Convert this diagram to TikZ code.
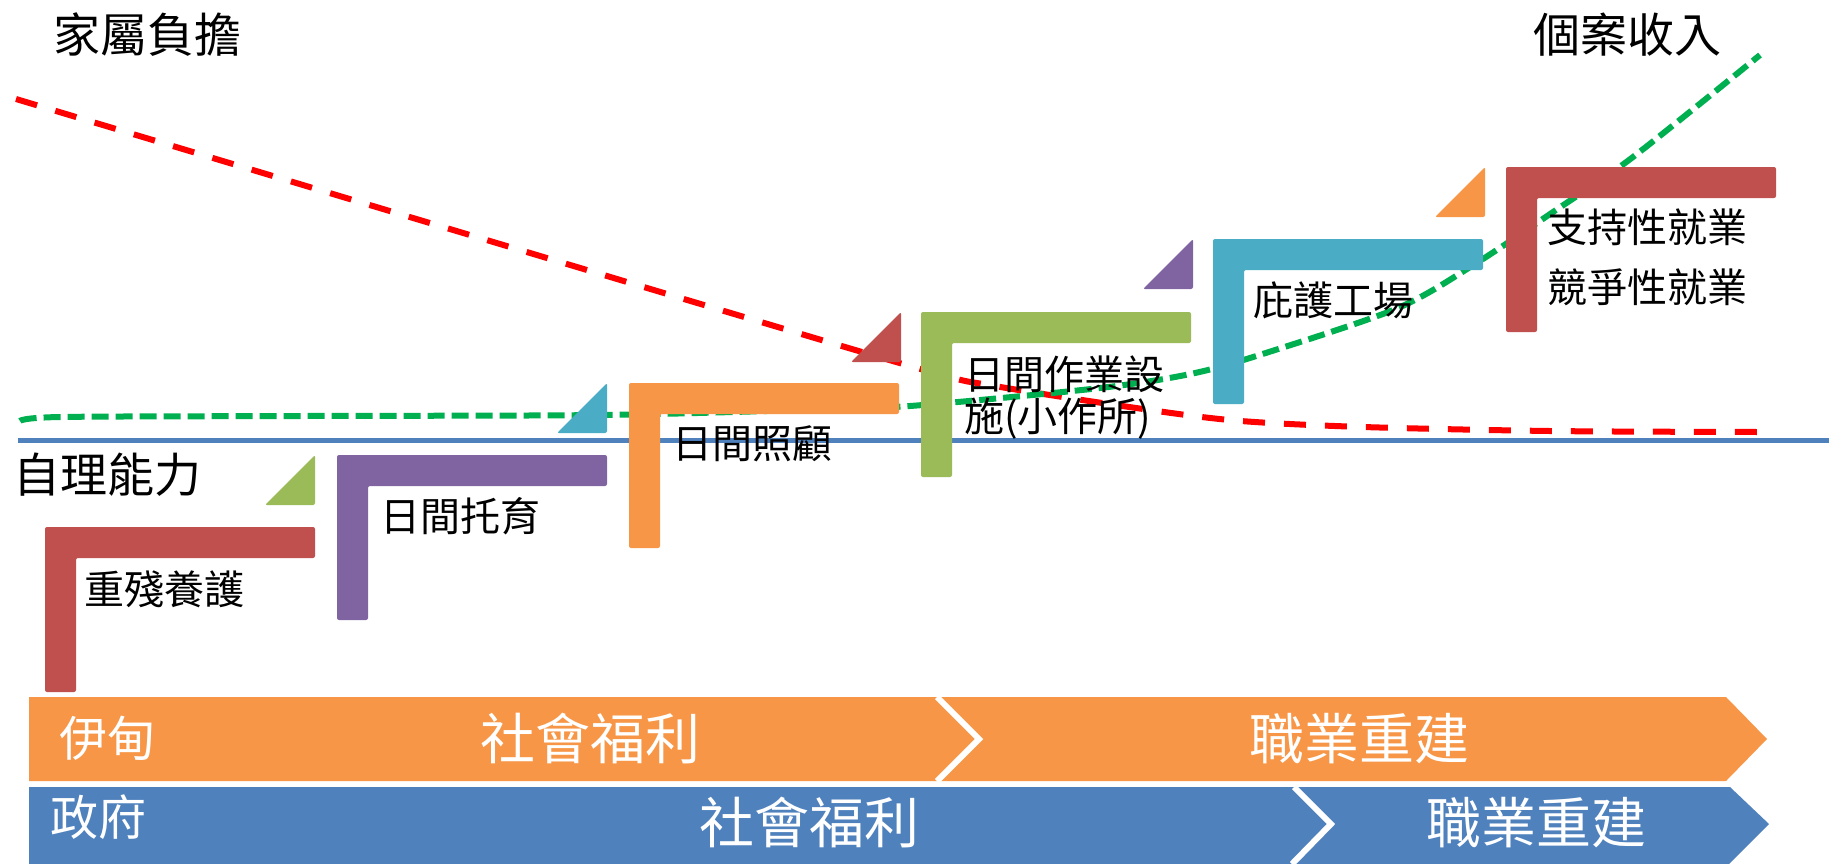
\documentclass[tikz,border=0pt]{standalone}
\usepackage{fontspec}
\setmainfont{Noto Sans CJK TC}
\definecolor{stepred}{HTML}{C0504D}
\definecolor{steppurple}{HTML}{8064A2}
\definecolor{steporange}{HTML}{F79646}
\definecolor{stepgreen}{HTML}{9BBB59}
\definecolor{stepteal}{HTML}{4BACC6}
\definecolor{lineblue}{HTML}{4F81BD}
\definecolor{curvegreen}{HTML}{00B050}
\definecolor{curvered}{HTML}{FF0000}
\tikzset{
  steplabel/.style={font=\fontsize{40}{42}\selectfont, inner sep=0pt, anchor=base west, align=left},
  axislabel/.style={font=\fontsize{47}{50}\selectfont, inner sep=0pt, anchor=base west},
  bandlabel/.style={font=\fontsize{48}{50}\selectfont, text=white, inner sep=0pt, anchor=base west},
  phaselabel/.style={font=\fontsize{55}{60}\selectfont, text=white, inner sep=0pt, anchor=base}
}

\begin{document}
\begin{tikzpicture}[x=1pt,y=-1pt]
\useasboundingbox (0,0) rectangle (1829,863);
\def\w{270}
\def\t{31}
\def\h{165}
\draw[curvered, line width=6pt, dash pattern=on 22pt off 19pt] plot[smooth] coordinates {(16,99) (500,244) (910,366) (995,386) (1150,410) (1241,421) (1363,427) (1550,431) (1760,432)};
\draw[curvegreen, line width=6pt, dash pattern=on 17pt off 7pt] plot[smooth] coordinates {(20,421) (60,417) (300,416) (600,415) (800,410) (910,406) (1100,388) (1195,373) (1272,351) (1398,308) (1475,264) (1556,210) (1633,157) (1760,55)};
\draw[lineblue, line width=5pt] (18,440) -- (1829,440);
\foreach \a/\b/\c in {45/527/stepred, 337/455/steppurple, 629/383/steporange, 921/312/stepgreen, 1213/239/stepteal, 1506/167/stepred}
  \fill[\c, rounded corners=2pt] (\a,\b) -- ++(\w,0) -- ++(0,\t) -- ++(\t-\w,0) -- ++(0,\h-\t) -- ++(-\t,0) -- cycle;
\foreach \a/\b/\c in {315/455/stepgreen, 607/383/stepteal, 901/312/stepred, 1193/239/steppurple, 1485/167/steporange}
  \fill[\c, rounded corners=2pt] (\a,\b) -- ++(0,50) -- ++(-50,0) -- cycle;
\fill[steporange] (29,697) -- (1726,697) -- (1767,739) -- (1726,781) -- (29,781) -- cycle;
\fill[lineblue] (29,787) -- (1730,787) -- (1769,824) -- (1729,864) -- (29,864) -- cycle;
\draw[white, line width=6pt] (937,697) -- (979,739) -- (937,781);
\draw[white, line width=6pt] (1294,787) -- (1331,824) -- (1292,864);
\node[axislabel] (family) at (53,52) {家屬負擔};
\node[axislabel] (income) at (1533,52) {個案收入};
\node[axislabel] (ability) at (13,492) {自理能力};
\node[steplabel] (severe) at (84,604) {重殘養護};
\node[steplabel] (daycare) at (380,531) {日間托育};
\node[steplabel] (daycaring) at (672,458) {日間照顧};
\node[steplabel] (workshop) at (964,431) {日間作業設\\施(小作所)};
\node[steplabel] (sheltered) at (1253,315) {庇護工場};
\node[steplabel] (employ) at (1547,302) {支持性就業\\[18pt]競爭性就業};
\node[bandlabel] (eden) at (59,756) {伊甸};
\node[bandlabel] (govt) at (50,835) {政府};
\node[phaselabel] (edenwelfare) at (590,759) {社會福利};
\node[phaselabel] (edenvoc) at (1359,759) {職業重建};
\node[phaselabel] (govtwelfare) at (809,843) {社會福利};
\node[phaselabel] (govtvoc) at (1536,843) {職業重建};
\end{tikzpicture}
\end{document}
